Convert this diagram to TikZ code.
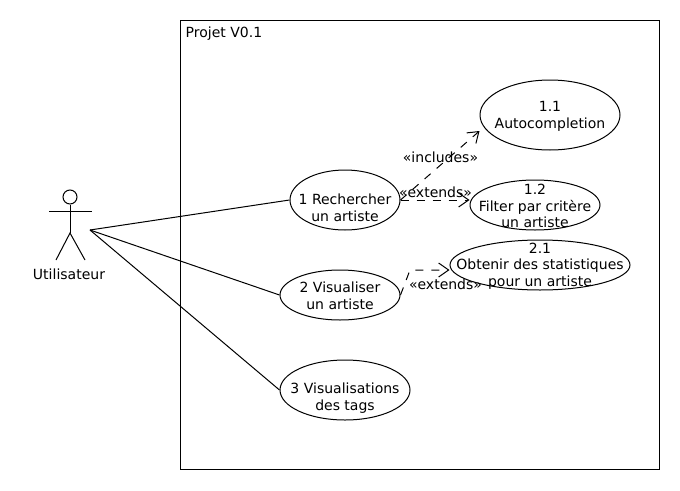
\documentclass[tikz,border=0pt]{standalone}
\usepackage{fontspec}
\setmainfont{DejaVu Sans}
\usetikzlibrary{arrows.meta,shapes.geometric}
\tikzset{
  usecase/.style={draw=black,ellipse,line width=1pt,inner sep=0pt},
  uctext/.style={inner sep=0pt,align=center,font=\fontsize{14}{16.5}\selectfont},
  lbl/.style={inner sep=0pt,font=\fontsize{14}{16.5}\selectfont},
  assoc/.style={line width=1pt},
  dep/.style={line width=1pt,dash pattern=on 8pt off 8pt,-{Straight Barb[length=10pt,width=14pt,line width=1pt]}},
  limb/.style={line width=1pt}
}
\begin{document}
\begin{tikzpicture}[x=1pt,y=-1pt]
\useasboundingbox (0,0) rectangle (680,490);
\fill[white] (0,0) rectangle (680,490);
\node[draw=black,line width=1pt,minimum width=479pt,minimum height=449pt,inner sep=0pt] (sys) at (420,245) {};
\node[lbl,anchor=west] (systitle) at (185.5,34) {Projet V0.1};
% actor
\node[draw=black,circle,line width=1pt,minimum size=14pt,inner sep=0pt] (head) at (70,197) {};
\coordinate (armL) at (49,211);
\coordinate (armR) at (92,211);
\coordinate (hip) at (70,233);
\coordinate (legL) at (56,260);
\coordinate (legR) at (85,260);
\coordinate (actor) at (90,230);
\draw[limb] (head.south) -- (hip);
\draw[limb] (armL) -- (armR);
\draw[limb] (legL) -- (hip) -- (legR);
\node[lbl] (actorname) at (69,274) {Utilisateur};
% use cases
\node[usecase,minimum width=140pt,minimum height=70pt] (a11) at (550,115) {};
\node[uctext] (t11) at (550,116.5) {1.1\\Autocompletion};
\node[usecase,minimum width=130pt,minimum height=50pt] (a12) at (535,205) {};
\node[uctext] (t12) at (535,206) {1.2\\Filter par critère\\un artiste};
\node[usecase,minimum width=180pt,minimum height=50pt] (a21) at (540,265) {};
\node[uctext] (t21) at (540,266) {2.1\\Obtenir des statistiques\\pour un artiste};
\node[usecase,minimum width=110pt,minimum height=60pt] (a1) at (345,200) {};
\node[uctext] (t1) at (345,208) {1 Rechercher\\un artiste};
\node[usecase,minimum width=120pt,minimum height=50pt] (a2) at (340,295) {};
\node[uctext] (t2) at (340,296) {2 Visualiser\\un artiste};
\node[usecase,minimum width=130pt,minimum height=60pt] (a3) at (345,390) {};
\node[uctext] (t3) at (345,398) {3 Visualisations\\des tags};
% associations
\draw[assoc] (actor) -- (a1.west);
\draw[assoc] (actor) -- (a2.west);
\draw[assoc] (actor) -- (a3.west);
% dependencies
\draw[dep] (a1.east) -- (a11.west |- 0,131);
\draw[dep] (a1.east) -- (a12.west |- a1.east);
\coordinate (bend) at (410,270);
\draw[dep] (a2.east) -- (bend) -- (a21.west |- bend);
\node[lbl] (lincl) at (440.5,157) {«includes»};
\node[lbl] (lext1) at (435.5,192) {«extends»};
\node[lbl] (lext2) at (445.5,284) {«extends»};
\end{tikzpicture}
\end{document}
